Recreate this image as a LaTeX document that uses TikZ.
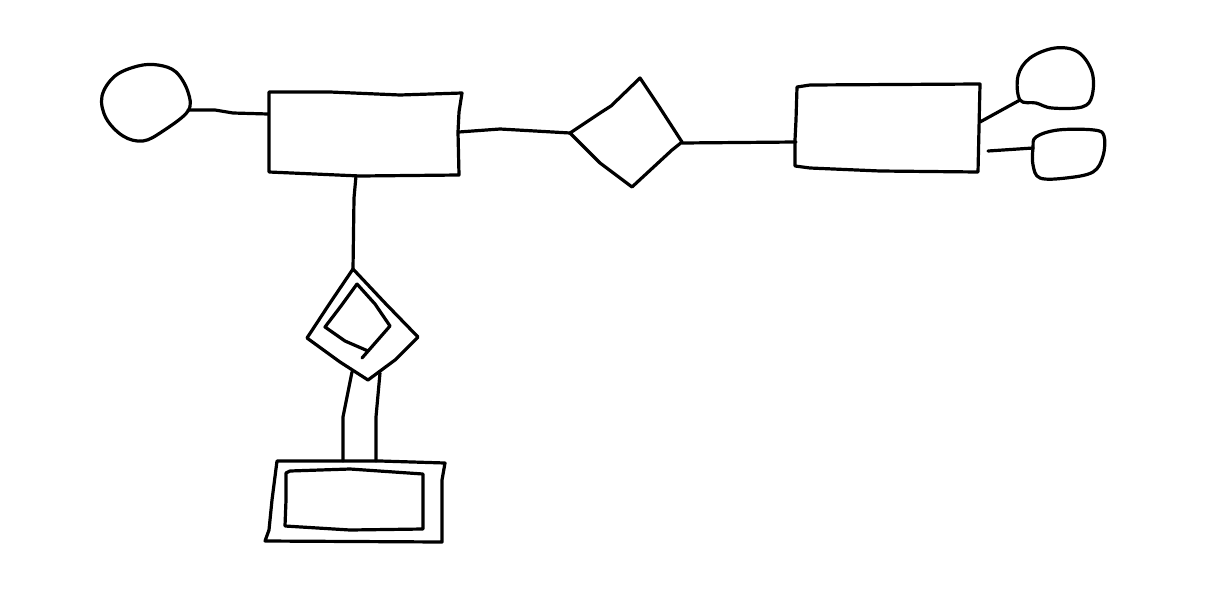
\documentclass[tikz,border=0pt]{standalone}
\begin{document}
\begin{tikzpicture}[x=1pt,y=-1pt,
  ink/.style={line width=3.2pt,line join=round,line cap=round,black}]
\useasboundingbox[fill=white] (0,0) rectangle (1225,608);

% named attachment points
\coordinate (attrLr) at (188,110);
\coordinate (e1l) at (268,114);
\coordinate (e1r) at (459,132);
\coordinate (e1b) at (356,176);
\coordinate (r1l) at (570,133);
\coordinate (r1r) at (682,143);
\coordinate (e2l) at (796,142);
\coordinate (e2ra) at (980,122);
\coordinate (e2rb) at (988,151);
\coordinate (a2l) at (1020,100);
\coordinate (a3l) at (1033,148);
\coordinate (wrt) at (353,269);
\coordinate (wrbl) at (352,372);
\coordinate (wrbr) at (380,373);
\coordinate (wetl) at (343,461);
\coordinate (wetr) at (376,461);

% left attribute
\draw[ink] plot[smooth cycle,tension=0.6] coordinates
  {(188,111) (188,92) (176,72) (158,65) (138,66) (115,76) (102,96) (106,118) (123,136) (143,141) (163,131)};
\draw[ink] (attrLr) -- (215,110) -- (233,113) -- (e1l);

% entity 1
\draw[ink] (269,92) -- (330,92) -- (400,95) -- (462,93) -- (459,112) -- (458,132) -- (459,175) -- (360,176) -- (269,172) -- cycle;
\draw[ink] (e1r) -- (500,129) -- (r1l);

% relationship
\draw[ink] (r1l) -- (600,113) -- (611,106) -- (640,78) -- (660,108) -- (682,142) -- (672,150) -- (632,187) -- (600,163) -- cycle;
\draw[ink] (r1r) -- (e2l);

% entity 2
\draw[ink] (797,87) -- (810,85) -- (980,84) -- (978,172) -- (880,171) -- (810,168) -- (795,166) -- (795,140) -- (796,120) -- cycle;

% right attributes
\draw[ink] (e2ra) -- (a2l);
\draw[ink] plot[smooth cycle,tension=0.6] coordinates
  {(1020,100) (1018,76) (1030,58) (1055,48) (1078,52) (1092,72) (1092,96) (1082,107) (1052,108) (1036,103)};
\draw[ink] (e2rb) -- (a3l);
\draw[ink] plot[smooth cycle,tension=0.6] coordinates
  {(1033,148) (1036,137) (1058,130) (1094,130) (1104,136) (1103,156) (1093,172) (1066,178) (1040,178) (1033,165)};

% connector entity 1 to weak relationship
\draw[ink] (e1b) -- (354,198) -- (wrt);

% weak relationship (double diamond)
\draw[ink] (wrt) -- (385,303) -- (418,337) -- (395,360) -- (368,380) -- (340,362) -- (307,338) -- (330,303) -- cycle;
\draw[ink] (357,284) -- (375,304) -- (390,326) -- (376,342) -- (362,358);
\draw[ink] (357,284) -- (341,306) -- (325,327) -- (345,341) -- (368,351);

% double connector
\draw[ink] (wrbl) -- (343,417) -- (wetl);
\draw[ink] (wrbr) -- (376,417) -- (wetr);

% weak entity (double rectangle)
\draw[ink] (277,461) -- (380,461) -- (445,463) -- (442,480) -- (442,542) -- (265,541) -- (269,530) -- (272,500) -- cycle;
\draw[ink] (286,473) -- (290,471) -- (350,469) -- (423,474) -- (423,529) -- (350,530) -- (285,526) -- (286,500) -- cycle;
\end{tikzpicture}
\end{document}
